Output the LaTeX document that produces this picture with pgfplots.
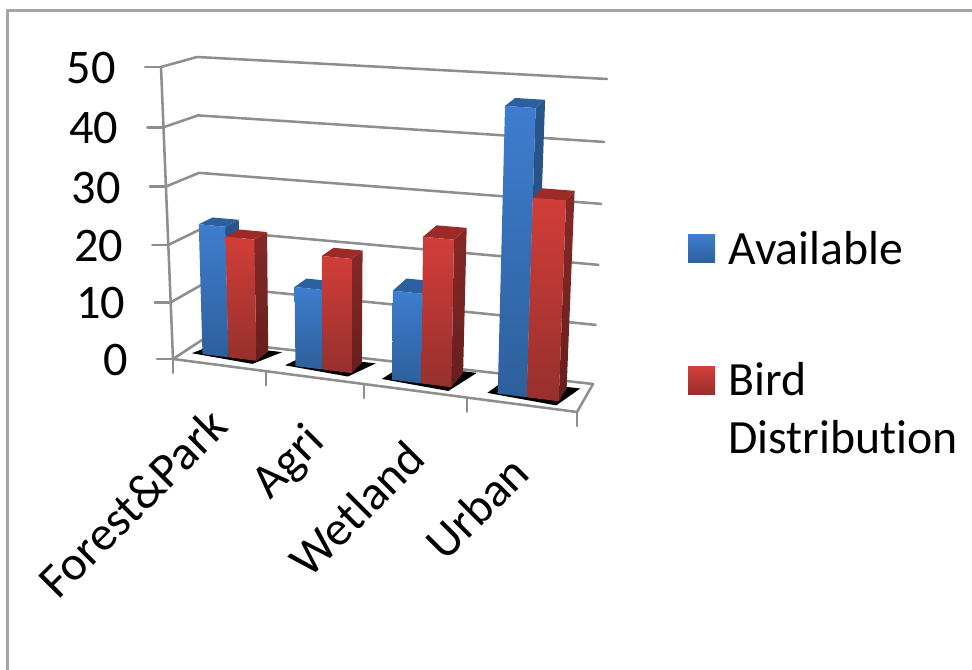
\documentclass[border=0pt]{standalone}
\usepackage{fontspec}
\setmainfont{Carlito}[Ligatures=NoCommon]
\usepackage{pgfplots}
\pgfplotsset{compat=1.18}

\definecolor{wallgray}{HTML}{8E8E8E}
\definecolor{framegray}{HTML}{A6A6A6}
\definecolor{bluehi}{HTML}{3E7DCE}
\definecolor{bluelo}{HTML}{2E5F9C}
\definecolor{bluesidehi}{HTML}{28558C}
\definecolor{bluesidelo}{HTML}{234C7E}
\definecolor{bluetop}{HTML}{2B5F9F}
\definecolor{redhi}{HTML}{D23D39}
\definecolor{redlo}{HTML}{96302D}
\definecolor{redsidehi}{HTML}{862927}
\definecolor{redsidelo}{HTML}{661F1D}
\definecolor{redtop}{HTML}{9C2B28}

% Box coordinates: c = category position 0..4, d = depth 0..1, v = value 0..50.
% The chart box is projected onto the page through its eight corners;
% vfrac adds the slight foreshortening of the value direction.
\tikzset{
  declare function={
    vfrac(\v)=(\v/50)/(1+0.04*(1-\v/50));
    boxx(\c,\d,\v)=(1-vfrac(\v))*((1-\d)*(173+101*\c)+\d*(202+97.75*\c))
                  +vfrac(\v)*((1-\d)*(161+107*\c)+\d*(197+102.5*\c));
    boxy(\c,\d,\v)=(1-vfrac(\v))*((1-\d)*(359+13.25*\c)+\d*(340+11*\c))
                  +vfrac(\v)*((1-\d)*(67+7.5*\c)+\d*(57+5.5*\c));
  }
}
\pgfplotsset{
  /pgfplots/table/box table/.style={
    /pgfplots/table/x expr={boxx(\thisrow{c},\thisrow{d},\thisrow{v})},
    /pgfplots/table/y expr={boxy(\thisrow{c},\thisrow{d},\thisrow{v})},
    /pgfplots/table/row sep=\\
  },
  wall line/.style={draw=wallgray,line width=1.9pt,line cap=round,line join=round,no markers},
}

% One bar: c0, c1, d0, d1, value, colour prefix
\newcommand{\boxbar}[6]{%
  \addplot[draw=none,no markers,top color=#6sidehi,bottom color=#6sidelo]
    table[box table]{c d v\\ #2 #3 0\\ #2 #4 0\\ #2 #4 #5\\ #2 #3 #5\\} -- cycle;
  \addplot[draw=none,no markers,fill=#6top]
    table[box table]{c d v\\ #1 #3 #5\\ #2 #3 #5\\ #2 #4 #5\\ #1 #4 #5\\} -- cycle;
  \addplot[draw=none,no markers,top color=#6hi,bottom color=#6lo]
    table[box table]{c d v\\ #1 #3 0\\ #2 #3 0\\ #2 #3 #5\\ #1 #3 #5\\} -- cycle;
}
% Floor shadow under a cluster: c0, c2, d0, d1
\newcommand{\floorshadow}[4]{%
  \addplot[draw=none,no markers,fill=black]
    coordinates {({boxx(#1-0.1,#3-0.02,0)},{boxy(#1-0.1,#3-0.02,0)})
                 ({boxx(#1-0.02,#4+0.05,0)},{boxy(#1-0.02,#4+0.05,0)})
                 ({boxx(#2+0.13,#4+0.05,0)},{boxy(#2+0.13,#4+0.05,0)})
                 ({boxx(#2,#3-0.15,0)},{boxy(#2,#3-0.15,0)})} -- cycle;
}
% One gridline along the left and back walls at the given value
\newcommand{\gridline}[1]{%
  \addplot[wall line] table[box table]{c d v\\ 0 0 #1\\ 0 1 #1\\ 4 1 #1\\};
}

\begin{document}
\begin{tikzpicture}[x=0.75pt,y=0.75pt]
\path[use as bounding box] (0,0) rectangle (972,670);
\begin{axis}[
  at={(0,0)},anchor=south west,
  scale only axis,width=729pt,height=502.5pt,
  xmin=0,xmax=972,ymin=0,ymax=670,y dir=reverse,
  hide axis,clip=true,
]
% chart frame, open at the right and at the bottom
\addplot[draw=framegray,line width=1.9pt,no markers] coordinates {(972,10.5)(7.5,10.5)(7.5,670)};

% gridlines on the walls
\gridline{10}\gridline{20}\gridline{30}\gridline{40}\gridline{50}

% floor outline and value axis
\addplot[wall line] table[box table]{c d v\\ 0 0 0\\ 0 1 0\\ 4 1 0\\ 4 0 0\\ 0 0 0\\};
\addplot[wall line] table[box table]{c d v\\ 0 0 0\\ 0 0 50\\};

% value ticks, pointing left
\pgfplotsinvokeforeach{0,10,20,30,40,50}{
  \addplot[wall line] coordinates {({boxx(0,0,#1)-16},{boxy(0,0,#1)}) ({boxx(0,0,#1)},{boxy(0,0,#1)})};
  \node[anchor=east,font=\fontsize{36.2}{42}\selectfont,inner sep=0pt] at (axis cs:{boxx(0,0,#1)-45},{boxy(0,0,#1)+1}) {#1};
}
% category boundary ticks, pointing down
\pgfplotsinvokeforeach{0,0.921,1.891,2.911,4}{
  \addplot[wall line] coordinates {({boxx(#1,0,0)},{boxy(#1,0,0)}) ({boxx(#1,0,0)},{boxy(#1,0,0)+14})};
}

% floor shadows
\floorshadow{0.185}{0.726}{0.38}{0.82}
\floorshadow{1.122}{1.683}{0.36}{0.80}
\floorshadow{2.105}{2.696}{0.30}{0.88}
\floorshadow{3.163}{3.773}{0.28}{0.75}

% Forest&Park
\boxbar{0.185}{0.445}{0.38}{0.82}{22.9}{blue}
\boxbar{0.445}{0.726}{0.38}{0.82}{21.2}{red}
% Agri
\boxbar{1.122}{1.393}{0.36}{0.80}{13.8}{blue}
\boxbar{1.393}{1.683}{0.36}{0.80}{19.6}{red}
% Wetland
\boxbar{2.105}{2.396}{0.30}{0.88}{15.2}{blue}
\boxbar{2.396}{2.696}{0.30}{0.88}{24.7}{red}
% Urban
\boxbar{3.163}{3.453}{0.28}{0.75}{46.9}{blue}
\boxbar{3.453}{3.773}{0.28}{0.75}{32.7}{red}

% category names
\begin{scope}[every node/.style={anchor=north east,rotate=45,inner sep=0pt,font=\fontsize{36.5}{42}\selectfont}]
\node at (axis cs:206,405) {Forest\&Park};
\node at (axis cs:303,420) {Agri};
\node at (axis cs:404,437) {Wetland};
\node at (axis cs:508,452) {Urban};
\end{scope}

% legend
\addplot[draw=none,no markers,top color=bluehi,bottom color=bluelo] coordinates {(688,235)(715,235)(715,263)(688,263)} -- cycle;
\addplot[draw=none,no markers,top color=redhi,bottom color=redlo] coordinates {(688,367)(715,367)(715,395)(688,395)} -- cycle;
\begin{scope}[every node/.style={anchor=base west,inner sep=0pt,font=\fontsize{35.8}{42}\selectfont}]
\node at (axis cs:728,265) {Available};
\node at (axis cs:728,396) {Bird};
\node at (axis cs:728,454) {Distribution};
\end{scope}
\end{axis}
\end{tikzpicture}
\end{document}
